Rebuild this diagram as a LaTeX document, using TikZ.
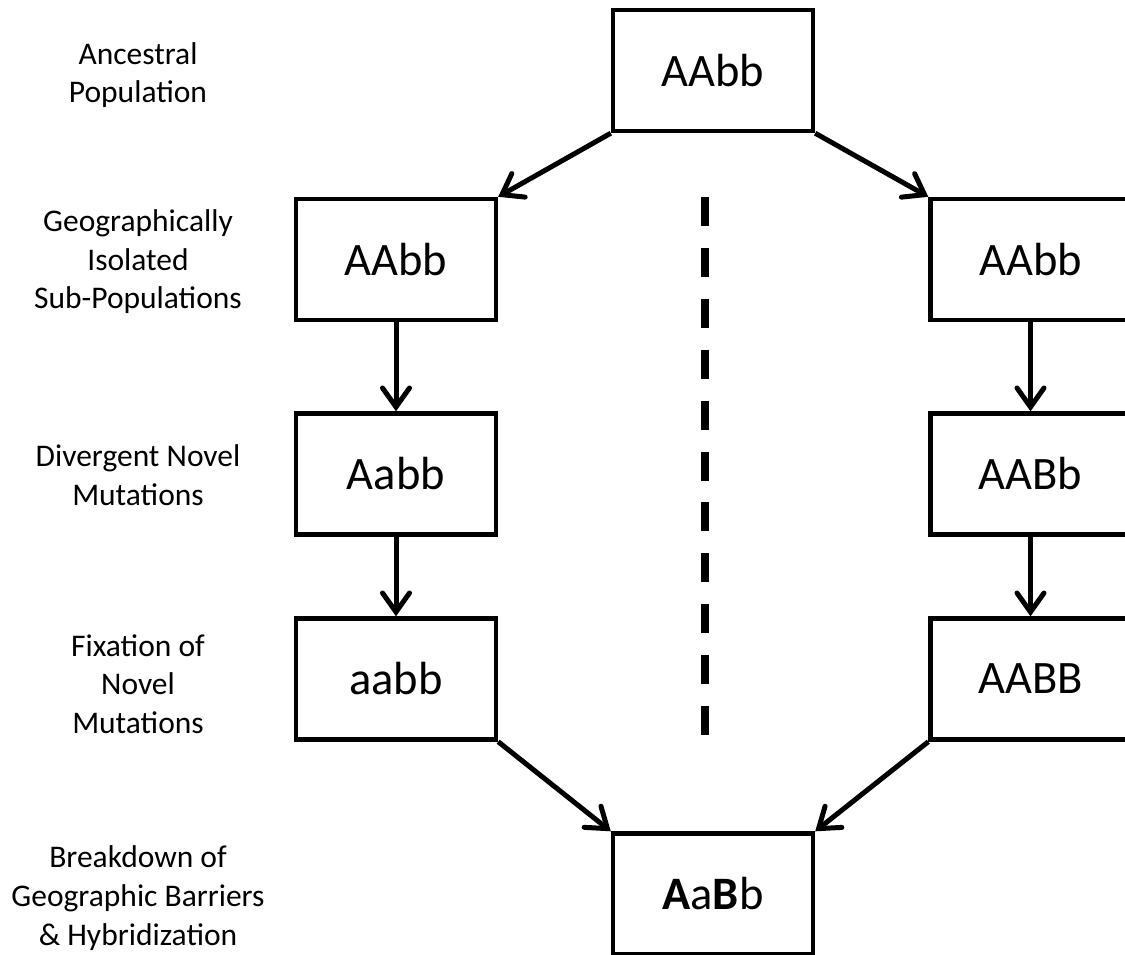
\documentclass[tikz,border=0pt]{standalone}
\usepackage{fontspec}
\setmainfont{Carlito}
\usetikzlibrary{arrows.meta}

\begin{document}
\begin{tikzpicture}[x=1pt,y=-1pt,
    box/.style={draw,line width=4.4pt,minimum width=200pt,minimum height=121pt,inner sep=0pt,
        font=\fontsize{46.5}{56}\selectfont},
    stage/.style={align=center,font=\fontsize{31.5}{38.6}\selectfont},
    arr/.style={line width=5pt,-{Straight Barb[length=19pt,width=27pt,line cap=round]}}]
    \useasboundingbox (0,0) rectangle (1125,955);

    % stage names on the left
    \node[stage] (s1) at (138,75)  {Ancestral\\Population};
    \node[stage] (s2) at (138,262) {Geographically\\Isolated\\Sub-Populations};
    \node[stage] (s3) at (138,475) {Divergent Novel\\Mutations};
    \node[stage] (s4) at (138,684) {Fixation of\\Novel\\Mutations};
    \node[stage] (s5) at (138,898) {Breakdown of\\Geographic Barriers\\\& Hybridization};

    % genotype boxes
    \node[box] (anc) at (713,70.5)  {AAbb};
    \node[box] (la)  at (396,259.5) {AAbb};
    \node[box] (lb)  at (396,474)   {Aabb};
    \node[box] (lc)  at (396,679)   {aabb};
    \node[box] (ra)  at (1030.5,259.5) {AAbb};
    \node[box] (rb)  at (1030.5,474)   {AABb};
    \node[box] (rc)  at (1030.5,679)   {AABB};
    \node[box] (hyb) at (713,894)   {\textbf{A}a\textbf{B}b};

    % split and rejoin
    \draw[arr] (anc.south west) -- (la.north east);
    \draw[arr] (anc.south east) -- (ra.north west);
    \draw[arr] (lc.south east) -- (hyb.north west);
    \draw[arr] (rc.south west) -- (hyb.north east);

    % each column on its own
    \foreach \a/\b in {la/lb,lb/lc,ra/rb,rb/rc}{
        \draw[arr] (\a) -- (\b);
    }

    % geographic barrier
    \coordinate (bartop) at (705,197);
    \coordinate (barbot) at (705,735);
    \draw[line width=8pt,dash pattern=on 29pt off 21.9pt] (bartop) -- (barbot);
\end{tikzpicture}
\end{document}
